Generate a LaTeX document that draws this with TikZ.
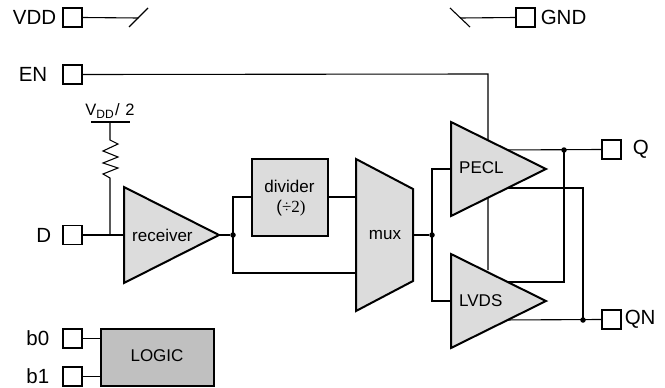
\documentclass[tikz,border=0pt]{standalone}
\usepackage{fontspec}
\setmainfont{Liberation Sans}
\usetikzlibrary{positioning}
\definecolor{blockgray}{HTML}{DCDCDC}
\definecolor{logicgray}{HTML}{C0C0C0}
\tikzset{
  wire/.style={line width=1.1pt, line join=miter},
  pin/.style={draw, line width=1.1pt, fill=white, minimum size=19pt, inner sep=0pt},
  block/.style={draw, line width=2pt, line join=miter, fill=blockgray},
  pinlabel/.style={font=\fontsize{20.5}{20.5}\selectfont, inner sep=0pt},
  blocklabel/.style={font=\fontsize{17}{17}\selectfont, inner sep=0pt},
  dot/.style={circle, fill=black, minimum size=5.5pt, inner sep=0pt}
}
\begin{document}
\begin{tikzpicture}[x=1pt,y=-1pt]
\useasboundingbox (0,0) rectangle (665,388);

% Pins
\node[pin] (vdd) at (72.5,17.5) {};
\node[pin] (gnd) at (525.5,17.5) {};
\node[pin] (en) at (72.5,74.5) {};
\node[pin] (d) at (72.5,235) {};
\node[pin] (b0) at (72.5,338.5) {};
\node[pin] (b1) at (72.5,376.5) {};
\node[pin] (q) at (611.5,149.5) {};
\node[pin] (qn) at (611.5,319.5) {};

\node[pinlabel, left=6pt of vdd] (vddlabel) {VDD};
\node[pinlabel, right=5pt of gnd] (gndlabel) {GND};
\node[pinlabel, left=15pt of en] (enlabel) {EN};
\node[pinlabel, left=11pt of d] (dlabel) {D};
\node[pinlabel, left=13pt of b0] (b0label) {b0};
\node[pinlabel, left=13pt of b1] (b1label) {b1};
\node[pinlabel, right=11pt of q] (qlabel) {Q};
\node[pinlabel, right=3pt of qn] (qnlabel) {QN};

% Supply stubs
\coordinate (vddend) at (138.5,18);
\coordinate (vddtop) at (148,8);
\coordinate (vddbot) at (129,27);
\coordinate (gndend) at (460,18);
\coordinate (gndtop) at (450,8);
\coordinate (gndbot) at (470,27);
\draw[wire] (vdd.east) -- (vddend);
\draw[wire] (vddbot) -- (vddtop);
\draw[wire] (gnd.west) -- (gndend);
\draw[wire] (gndtop) -- (gndbot);

% Termination
\node[blocklabel, font=\fontsize{16.5}{16.5}\selectfont] (vterm) at (110,111)
  {V\raisebox{-2.5pt}{\fontsize{12}{12}\selectfont DD}\kern1.5pt/\kern1pt{} 2};
\coordinate (railL) at (91,122);
\coordinate (railR) at (130,122);
\coordinate (railM) at (110,122);
\coordinate (resTop) at (110,140);
\coordinate (resBot) at (110,178);
\coordinate (recvIn) at (124,235);
\coordinate (dJoin) at (110,235);
\draw[wire] (railL) -- (railR);
\draw[wire] (railM) -- (resTop) -- (118,144) -- (103,151) -- (118,157) -- (103,163) -- (118,168) -- (103,174) -- (resBot) -- (dJoin);
\draw[wire] (d.east) -- (recvIn);

% Enable line, passes behind PECL
\coordinate (enTurn) at (488,74);
\coordinate (enEnd) at (488,270);
\draw[wire] (en.east) -- (enTurn) -- (enEnd);

% Signal path
\coordinate (recvTip) at (219,235);
\node[dot] (split) at (233,235) {};
\node[dot] (fan) at (432,235) {};
\coordinate (divIn) at (233,197);
\coordinate (muxA) at (356,197);
\coordinate (muxB) at (356,273);
\coordinate (lowTurn) at (233,273);
\coordinate (muxOut) at (413,235);
\coordinate (peclTurn) at (432,169);
\coordinate (lvdsTurn) at (432,301);
\coordinate (peclIn) at (451,169);
\coordinate (lvdsIn) at (451,301);
\draw[wire] (recvTip) -- (split);
\draw[wire] (muxA) -- (divIn) -- (lowTurn) -- (muxB);
\draw[wire] (muxOut) -- (fan);
\draw[wire] (peclIn) -- (peclTurn) -- (lvdsTurn) -- (lvdsIn);

% Outputs
\node[dot] (qdot) at (564,150) {};
\node[dot] (qndot) at (583,320) {};
\coordinate (peclA) at (500,150);
\coordinate (peclB) at (500,188);
\coordinate (lvdsA) at (500,282);
\coordinate (lvdsB) at (500,320);
\coordinate (peclBturn) at (583,188);
\coordinate (lvdsAturn) at (564,282);
\draw[wire] (peclA) -- (q.west);
\draw[wire] (peclB) -- (peclBturn) -- (qndot.center);
\draw[wire] (lvdsA) -- (lvdsAturn) -- (qdot.center);
\draw[wire] (lvdsB) -- (qn.west);

% Blocks
\draw[block] (124,187) -- (219,235) -- (124,283) -- cycle;
\draw[block] (356,159) -- (413,189) -- (413,281) -- (356,311) -- cycle;
\draw[block] (451,122) -- (546,169) -- (451,216) -- cycle;
\draw[block] (451,254) -- (546,301) -- (451,348) -- cycle;
\node[block, minimum width=76pt, minimum height=77pt, inner sep=0pt] (divider) at (290,197.5) {};
\node[block, fill=logicgray, minimum width=113pt, minimum height=57pt, inner sep=0pt] (logic) at (157.5,357.5) {};
\draw[wire] (b0.east) -- (b0.east -| logic.west);
\draw[wire] (b1.east) -- (b1.east -| logic.west);

% Labels
\node[blocklabel, anchor=west] (recvlabel) at (132,235) {receiver};
\node[blocklabel] (divlabel) at (289.5,186.5) {divider};
\node[blocklabel] (divlabelb) at (291,208) {(\fontspec{Liberation Serif}÷2)};
\node[blocklabel] (muxlabel) at (385,235) {mux};
\node[blocklabel, anchor=west] (pecllabel) at (459,168) {PECL};
\node[blocklabel, anchor=west] (lvdslabel) at (459,301) {LVDS};
\node[blocklabel] (logiclabel) at (157,356) {LOGIC};
\end{tikzpicture}
\end{document}
